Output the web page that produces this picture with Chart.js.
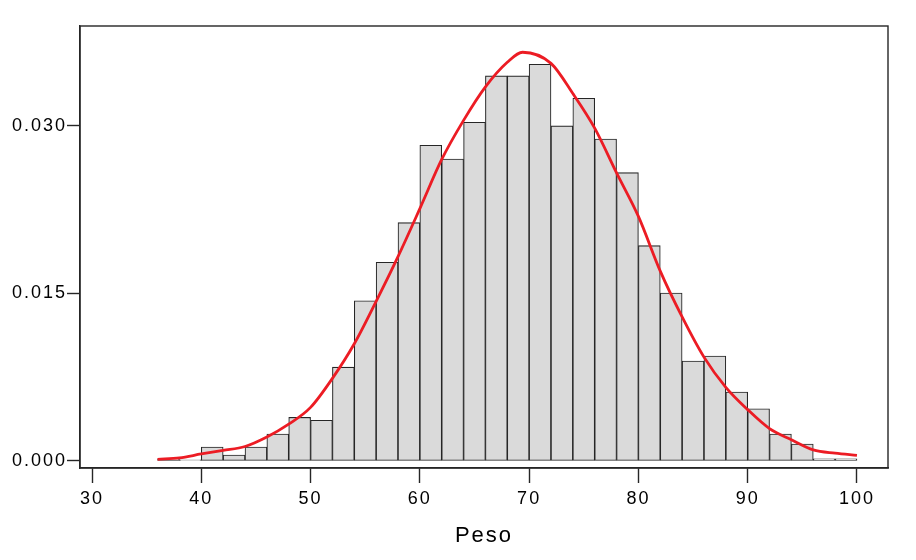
<!DOCTYPE html>
<html lang="es">
<head>
  <meta charset="UTF-8">
  <title>Histograma Peso</title>
  <script src="https://cdn.jsdelivr.net/npm/chart.js"></script>
  <style>
    body { margin: 0; background: #fff; }
    #wrap { width: 916px; height: 560px; }
  </style>
</head>
<body>
  <div id="wrap"><canvas id="chart"></canvas></div>

  <script>
    // histograma: centros de clase (ancho 2) y densidad
    const binCenters = [37, 39, 41, 43, 45, 47, 49, 51, 53, 55, 57, 59, 61, 63, 65, 67,
                        69, 71, 73, 75, 77, 79, 81, 83, 85, 87, 89, 91, 93, 95, 97, 99];
    const density = [0.0002, 0.0001, 0.00125, 0.00054, 0.00125, 0.00242, 0.0039, 0.00364,
                     0.0084, 0.01435, 0.0178, 0.02134, 0.02827, 0.02704, 0.03033, 0.03448,
                     0.03448, 0.03552, 0.0300, 0.03248, 0.02883, 0.02582, 0.01928, 0.01504,
                     0.00895, 0.0094, 0.00618, 0.00468, 0.00242, 0.00152, 0.0002, 0.0002];

    // curva de densidad (roja)
    const curveX = [36, 38, 40, 42, 44, 46, 48, 50, 52, 54, 56, 58, 60, 62, 64, 66, 68, 69.4,
                    72, 74, 76, 78, 80, 82, 84, 86, 88, 90, 92, 94, 96, 98, 100];
    const curveY = [0.00015, 0.00028, 0.00063, 0.00095, 0.0013, 0.00215, 0.0033, 0.0048, 0.0074,
                    0.0105, 0.0143, 0.0183, 0.0226, 0.027, 0.0305, 0.0335, 0.0357, 0.0366,
                    0.0356, 0.0329, 0.0298, 0.0258, 0.0219, 0.017, 0.0129, 0.0093, 0.0066,
                    0.0046, 0.0029, 0.0019, 0.001, 0.0007, 0.0005];

    const xTicks = [30, 40, 50, 60, 70, 80, 90, 100];
    const yTicks = [0, 0.015, 0.030];

    const ink = '#262626';
    const fontFam = '"Liberation Sans", Arial, sans-serif';

    const framePlugin = {
      id: 'frame',
      beforeDraw(chart) {
        chart.ctx.letterSpacing = '2px';
      },
      afterDraw(chart) {
        const { ctx, chartArea: a } = chart;
        ctx.save();
        ctx.strokeStyle = ink;
        ctx.lineWidth = 1.4;
        ctx.strokeRect(a.left, a.top, a.right - a.left, a.bottom - a.top);
        ctx.restore();
      }
    };

    const ctx = document.getElementById('chart').getContext('2d');
    new Chart(ctx, {
      type: 'bar',
      data: {
        datasets: [
          {
            type: 'line',
            data: curveX.map((x, i) => ({ x, y: curveY[i] })),
            borderColor: '#ec1c24',
            borderWidth: 2.8,
            pointRadius: 0,
            cubicInterpolationMode: 'monotone',
            fill: false,
            order: 0
          },
          {
            type: 'bar',
            data: binCenters.map((x, i) => ({ x, y: density[i] })),
            backgroundColor: '#dadada',
            borderColor: ink,
            borderWidth: 1.1,
            borderSkipped: false,
            barPercentage: 1,
            categoryPercentage: 1,
            order: 1
          }
        ]
      },
      options: {
        responsive: true,
        maintainAspectRatio: false,
        animation: false,
        layout: { padding: { left: 0, top: 26, right: 28, bottom: 0 } },
        plugins: { legend: { display: false }, tooltip: { enabled: false } },
        scales: {
          x: {
            type: 'linear',
            offset: false,
            min: 28.9,
            max: 102.84,
            afterBuildTicks: s => { s.ticks = xTicks.map(v => ({ value: v })); },
            afterFit: s => { s.height = 92; },
            grid: { drawOnChartArea: false, offset: false, tickLength: 15, tickColor: ink, tickWidth: 1.4 },
            border: { color: ink, width: 1.4 },
            ticks: { color: '#000', padding: 5, maxRotation: 0, font: { family: fontFam, size: 18 } },
            title: { display: true, text: 'Peso', color: '#000', padding: { top: 0, bottom: 11 },
                     font: { family: fontFam, size: 22 } }
          },
          y: {
            min: -0.000627,
            max: 0.03895,
            afterBuildTicks: s => { s.ticks = yTicks.map(v => ({ value: v })); },
            afterFit: s => { s.width = 80; },
            grid: { drawOnChartArea: false, tickLength: 13, tickColor: ink, tickWidth: 1.4 },
            border: { color: ink, width: 1.4 },
            ticks: { color: '#000', padding: 0, font: { family: fontFam, size: 18 },
                     callback: v => v.toFixed(3) }
          }
        }
      },
      plugins: [framePlugin]
    });
  </script>
</body>
</html>
